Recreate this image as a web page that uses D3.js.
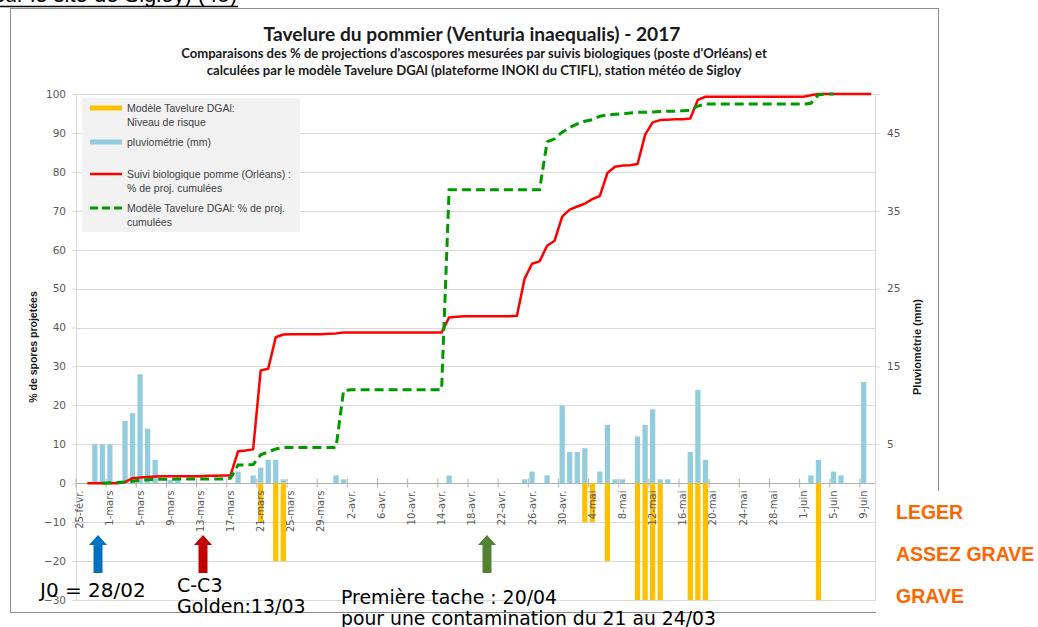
<!DOCTYPE html>
<html>
<head>
<meta charset="utf-8">
<script src="https://cdn.jsdelivr.net/npm/d3@7/dist/d3.min.js"></script>
<style>
  body { margin: 0; background: #fff; }
  svg { display: block; }
</style>
</head>
<body>
<div id="chart"></div>
<script>
// jours du 25-févr. au 10-juin 2017
const days = d3.timeDay.range(new Date(2017, 1, 25), new Date(2017, 5, 11));

const tickLabels = ["25-févr.", "1-mars", "5-mars", "9-mars", "13-mars", "17-mars", "21-mars",
  "25-mars", "29-mars", "2-avr.", "6-avr.", "10-avr.", "14-avr.", "18-avr.", "22-avr.",
  "26-avr.", "30-avr.", "4-mai", "8-mai", "12-mai", "16-mai", "20-mai", "24-mai", "28-mai",
  "1-juin", "5-juin", "9-juin"];

// pluviométrie (mm), axe de droite
const pluviometrie = [
  0, 0, 5, 5, 5, 0, 8, 9, 14, 7,
  3, 0, 0.4, 0.4, 0, 0, 0, 0, 0, 0,
  0, 1.5, 0, 1, 2, 3, 3, 0.5, 0, 0,
  0, 0, 0, 0, 1, 0.5, 0, 0, 0, 0,
  0, 0, 0, 0, 0, 0, 0, 0, 0, 1,
  0, 0, 0, 0, 0, 0, 0, 0, 0, 0.5,
  1.5, 0, 1, 0, 10, 4, 4, 4.5, 0, 1.5,
  7.5, 0.5, 0.5, 0, 6, 7.5, 9.5, 0.5, 0.5, 0,
  0, 4, 12, 3, 0, 0, 0, 0, 0, 0,
  0, 0, 0, 0, 0, 0, 0, 1, 3, 0,
  1.5, 1, 0, 0, 13, 0
];

// Modèle Tavelure DGAl : niveau de risque (-10 léger, -20 assez grave, -30 grave)
const niveauRisque = [
  0, 0, 0, 0, 0, 0, 0, 0, 0, 0,
  0, 0, 0, 0, 0, 0, 0, 0, 0, 0,
  0, 0, 0, 0, -10, 0, -20, -20, 0, 0,
  0, 0, 0, 0, 0, 0, 0, 0, 0, 0,
  0, 0, 0, 0, 0, 0, 0, 0, 0, 0,
  0, 0, 0, 0, 0, 0, 0, 0, 0, 0,
  0, 0, 0, 0, 0, 0, 0, -10, -10, 0,
  -20, 0, 0, 0, -30, -30, -30, -30, 0, 0,
  0, -30, -30, -30, 0, 0, 0, 0, 0, 0,
  0, 0, 0, 0, 0, 0, 0, 0, -30, 0,
  0, 0, 0, 0, 0, 0
];

// Suivi biologique pomme (Orléans) : % de projections cumulées
const suiviBio = [
  null, 0, 0, 0, 0, 0, 0.3, 1.3, 1.5, 1.6,
  1.7, 1.8, 1.8, 1.8, 1.8, 1.8, 1.8, 1.9, 1.9, 2.0,
  2.0, 8.2, 8.4, 8.7, 29.0, 29.4, 37.5, 38.2, 38.3, 38.3,
  38.3, 38.3, 38.3, 38.4, 38.5, 38.7, 38.7, 38.7, 38.7, 38.7,
  38.7, 38.7, 38.7, 38.7, 38.7, 38.7, 38.7, 38.7, 38.7, 42.6,
  42.8, 42.9, 42.9, 42.9, 42.9, 42.9, 42.9, 42.9, 43.0, 52.5,
  56.4, 57.0, 61.0, 62.3, 68.5, 70.3, 71.1, 71.8, 73.0, 73.8,
  79.7, 81.3, 81.6, 81.7, 82.0, 89.5, 92.7, 93.3, 93.4, 93.5,
  93.5, 93.7, 98.5, 99.3, 99.3, 99.3, 99.3, 99.3, 99.3, 99.3,
  99.3, 99.3, 99.3, 99.3, 99.3, 99.3, 99.3, 99.7, 100, 100,
  100, 100, 100, 100, 100, 100
];

// Modèle Tavelure DGAl : % de projections cumulées
const modeleDgal = [
  null, null, null, 0, 0.1, 0.2, 0.3, 0.5, 0.8, 0.9,
  1.0, 1.0, 1.0, 1.1, 1.1, 1.1, 1.1, 1.1, 1.1, 1.1,
  1.3, 4.7, 4.7, 4.8, 7.3, 8.1, 8.8, 9.2, 9.2, 9.2,
  9.2, 9.2, 9.2, 9.2, 9.2, 23.8, 24.0, 24.0, 24.0, 24.0,
  24.0, 24.0, 24.0, 24.0, 24.0, 24.0, 24.0, 24.0, 24.0, 75.4,
  75.4, 75.4, 75.4, 75.4, 75.4, 75.4, 75.4, 75.4, 75.4, 75.4,
  75.4, 75.4, 87.7, 88.5, 90.2, 91.4, 92.3, 93.0, 93.4, 94.3,
  94.6, 94.8, 94.9, 95.1, 95.3, 95.3, 95.4, 95.5, 95.6, 95.6,
  95.7, 95.8, 96.9, 97.4, 97.4, 97.4, 97.4, 97.4, 97.4, 97.4,
  97.4, 97.4, 97.4, 97.4, 97.4, 97.4, 97.4, 97.6, 99.8, 100,
  100, null, null, null, null, null
];

const yTicksLeft = d3.range(-30, 101, 10);
const yTicksRight = [5, 15, 25, 35, 45];
const riskLabels = ["LEGER", "ASSEZ GRAVE", "GRAVE"];

const width = 1038;
const height = 627;
const plotLeft = 76, plotRight = 875, plotTop = 94, plotBottom = 600;

const svg = d3.select("#chart")
  .append("svg")
  .attr("width", width)
  .attr("height", height)
  .style("font-family", "'DejaVu Sans', sans-serif");

const x = d3.scaleBand()
  .domain(d3.range(days.length))
  .range([plotLeft, plotRight])
  .paddingInner(0.3)
  .paddingOuter(0.15);
const cx = i => x(i) + x.bandwidth() / 2;

const y = d3.scaleLinear().domain([-30, 100]).range([plotBottom, plotTop]);
const yRain = d3.scaleLinear().domain([-15, 50]).range([plotBottom, plotTop]);

// texte coupé en haut de la page
svg.append("text")
  .attr("x", 237)
  .attr("y", 2)
  .attr("text-anchor", "end")
  .attr("font-family", "'Liberation Sans', Arial, sans-serif")
  .attr("font-size", 22)
  .attr("fill", "#000")
  .text("sur le site de Sigloy) (45)");
svg.append("line")
  .attr("x1", 0).attr("x2", 238)
  .attr("y1", 6.5).attr("y2", 6.5)
  .attr("stroke", "#000")
  .attr("stroke-width", 1.5);

// cadre du graphique
svg.append("rect")
  .attr("x", 10.5)
  .attr("y", 8.5)
  .attr("width", 928)
  .attr("height", 604)
  .attr("fill", "#fff")
  .attr("stroke", "#8c8c8c");

// titres
const titleFont = "Lato, 'Open Sans', sans-serif";
svg.append("text")
  .attr("x", 472).attr("y", 41)
  .attr("text-anchor", "middle")
  .attr("font-family", titleFont)
  .attr("font-weight", "bold")
  .attr("font-size", 19.2)
  .attr("fill", "#1a1a1a")
  .text("Tavelure du pommier (Venturia inaequalis) - 2017");
svg.append("text")
  .attr("x", 474).attr("y", 58)
  .attr("text-anchor", "middle")
  .attr("font-family", titleFont)
  .attr("font-weight", "bold")
  .attr("font-size", 13.1)
  .attr("fill", "#1a1a1a")
  .text("Comparaisons des % de projections d'ascospores mesurées par suivis biologiques (poste d'Orléans) et");
svg.append("text")
  .attr("x", 474).attr("y", 75)
  .attr("text-anchor", "middle")
  .attr("font-family", titleFont)
  .attr("font-weight", "bold")
  .attr("font-size", 13.1)
  .attr("fill", "#1a1a1a")
  .text("calculées par le modèle Tavelure DGAl (plateforme INOKI du CTIFL), station météo de Sigloy");

// grille horizontale
svg.append("g")
  .selectAll("line")
  .data(yTicksLeft)
  .join("line")
  .attr("x1", plotLeft)
  .attr("x2", plotRight)
  .attr("y1", d => Math.round(y(d)) + 0.5)
  .attr("y2", d => Math.round(y(d)) + 0.5)
  .attr("stroke", d => d === 0 ? "#b0b0b0" : "#d9d9d9");

// axe gauche
const axisL = svg.append("g")
  .attr("transform", `translate(${plotLeft},0)`)
  .call(d3.axisLeft(y).tickValues(yTicksLeft).tickSize(4).tickPadding(6));
axisL.select(".domain").attr("stroke", "#d9d9d9");
axisL.selectAll(".tick line").attr("stroke", "#d9d9d9");
axisL.selectAll(".tick text")
  .attr("font-family", "'DejaVu Sans', sans-serif")
  .attr("font-size", 10.5)
  .attr("fill", "#595959");

// axe droit (pluviométrie)
const axisR = svg.append("g")
  .attr("transform", `translate(${plotRight},0)`)
  .call(d3.axisRight(yRain).tickValues(yTicksRight).tickSize(5).tickPadding(7));
axisR.select(".domain").attr("stroke", "#d9d9d9");
axisR.selectAll(".tick line").attr("stroke", "#d9d9d9");
axisR.selectAll(".tick text")
  .attr("font-family", "'DejaVu Sans', sans-serif")
  .attr("font-size", 10.5)
  .attr("fill", "#595959");

// barres pluviométrie
svg.append("g")
  .selectAll("rect")
  .data(pluviometrie.map((v, i) => ({ i, v })).filter(d => d.v > 0))
  .join("rect")
  .attr("x", d => x(d.i))
  .attr("width", x.bandwidth())
  .attr("y", d => yRain(d.v))
  .attr("height", d => yRain(0) - yRain(d.v))
  .attr("fill", "#93cddd");

// barres niveau de risque
svg.append("g")
  .selectAll("rect")
  .data(niveauRisque.map((v, i) => ({ i, v })).filter(d => d.v < 0))
  .join("rect")
  .attr("x", d => x(d.i))
  .attr("width", x.bandwidth())
  .attr("y", y(0))
  .attr("height", d => y(d.v) - y(0))
  .attr("fill", "#ffc000");

// axe des dates
const tickIdx = tickLabels.map((_, k) => k * 4);
const axisB = svg.append("g")
  .attr("transform", `translate(0,${Math.round(y(0)) + 0.5})`)
  .call(d3.axisBottom(x).tickValues(tickIdx).tickFormat((d, k) => tickLabels[k]).tickSize(4));
axisB.select(".domain").remove();
axisB.selectAll(".tick line")
  .attr("stroke", "#b0b0b0")
  .attr("y1", -5)
  .attr("transform", `translate(${-x.step() / 2},0)`);
axisB.selectAll(".tick text")
  .attr("font-family", "'DejaVu Sans', sans-serif")
  .attr("font-size", 10)
  .attr("fill", "#595959")
  .attr("text-anchor", "end")
  .attr("dy", "0.35em")
  .attr("transform", "translate(0,7) rotate(-90)")
  .attr("x", 0)
  .attr("y", 0);

// courbes
const line = d3.line()
  .defined(d => d != null)
  .x((d, i) => cx(i))
  .y(d => y(d));

svg.append("path")
  .datum(suiviBio)
  .attr("d", line)
  .attr("fill", "none")
  .attr("stroke", "#ff0000")
  .attr("stroke-width", 2.5)
  .attr("stroke-linejoin", "round");

svg.append("path")
  .datum(modeleDgal)
  .attr("d", line)
  .attr("fill", "none")
  .attr("stroke", "#009a00")
  .attr("stroke-width", 3)
  .attr("stroke-dasharray", "9,5");

// titres des axes
svg.append("text")
  .attr("transform", `translate(37,${(plotTop + plotBottom) / 2}) rotate(-90)`)
  .attr("text-anchor", "middle")
  .attr("font-family", "'Liberation Sans', Arial, sans-serif")
  .attr("font-weight", "bold")
  .attr("font-size", 10.5)
  .attr("fill", "#1a1a1a")
  .text("% de spores projetées");
svg.append("text")
  .attr("transform", `translate(921,${(plotTop + plotBottom) / 2}) rotate(-90)`)
  .attr("text-anchor", "middle")
  .attr("font-family", "'Liberation Sans', Arial, sans-serif")
  .attr("font-weight", "bold")
  .attr("font-size", 11)
  .attr("fill", "#1a1a1a")
  .text("Pluviométrie (mm)");

// légende
const legend = svg.append("g");
legend.append("rect")
  .attr("x", 82).attr("y", 98)
  .attr("width", 218).attr("height", 134)
  .attr("fill", "#f2f2f2");
const legendItems = [
  { type: "bar", color: "#ffc000", y: 108, lines: ["Modèle Tavelure DGAl:", "Niveau de risque"] },
  { type: "bar", color: "#93cddd", y: 142, lines: ["pluviométrie  (mm)"] },
  { type: "line", color: "#ff0000", y: 174, lines: ["Suivi biologique pomme (Orléans) :", "% de proj. cumulées"] },
  { type: "dash", color: "#009a00", y: 208, lines: ["Modèle Tavelure DGAl: % de proj.", "cumulées"] }
];
legendItems.forEach(it => {
  if (it.type === "bar") {
    legend.append("rect")
      .attr("x", 90).attr("y", it.y - 2.5)
      .attr("width", 32).attr("height", 5)
      .attr("fill", it.color);
  } else {
    legend.append("line")
      .attr("x1", 90).attr("x2", 122)
      .attr("y1", it.y).attr("y2", it.y)
      .attr("stroke", it.color)
      .attr("stroke-width", it.type === "dash" ? 3 : 2.5)
      .attr("stroke-dasharray", it.type === "dash" ? "8,4" : null);
  }
  it.lines.forEach((t, k) => {
    legend.append("text")
      .attr("x", 127)
      .attr("y", it.y + k * 14)
      .attr("dy", "0.35em")
      .attr("font-family", "'Liberation Sans', Arial, sans-serif")
      .attr("font-size", 10.5)
      .attr("fill", "#404040")
      .text(t);
  });
});

// flèches et annotations
const arrows = [
  { x: 98, color: "#0070c0" },
  { x: 203, color: "#c00000" },
  { x: 487, color: "#548235" }
];
svg.append("g")
  .selectAll("path")
  .data(arrows)
  .join("path")
  .attr("d", d => `M${d.x},535 L${d.x + 9},545 L${d.x + 4.5},545 L${d.x + 4.5},573 L${d.x - 4.5},573 L${d.x - 4.5},545 L${d.x - 9},545 Z`)
  .attr("fill", d => d.color);

const notes = [
  { x: 40, y: 597, size: 20, text: "J0 = 28/02" },
  { x: 177, y: 592, size: 19, text: "C-C3" },
  { x: 177, y: 613, size: 19, text: "Golden:13/03" },
  { x: 341, y: 604, size: 18.9, text: "Première tache : 20/04" },
  { x: 341, y: 625, size: 18.8, text: "pour une contamination du 21 au 24/03" }
];
svg.append("g")
  .selectAll("text")
  .data(notes)
  .join("text")
  .attr("x", d => d.x)
  .attr("y", d => d.y)
  .attr("font-family", "'DejaVu Sans', sans-serif")
  .attr("font-size", d => d.size)
  .attr("fill", "#000")
  .text(d => d.text);

// libellés des niveaux de risque
svg.append("rect")
  .attr("x", 876).attr("y", 491)
  .attr("width", 162).attr("height", 136)
  .attr("fill", "#fff");
svg.append("g")
  .selectAll("text")
  .data(riskLabels)
  .join("text")
  .attr("x", 896)
  .attr("y", (d, k) => 519 + k * 42)
  .attr("font-family", "'Liberation Sans', Arial, sans-serif")
  .attr("font-weight", "bold")
  .attr("font-size", 19.5)
  .attr("fill", "#ff6600")
  .text(d => d);
</script>
</body>
</html>
